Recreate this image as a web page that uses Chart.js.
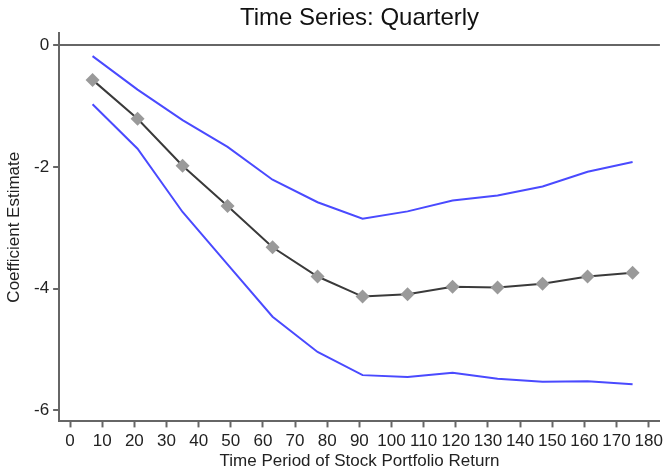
<!DOCTYPE html>
<html>
<head>
<meta charset="utf-8">
<script src="https://cdn.jsdelivr.net/npm/chart.js@4"></script>
<style>
  html, body { margin: 0; padding: 0; background: #fff; }
  #wrap { width: 668px; height: 468px; }
</style>
</head>
<body>
<div id="wrap"><canvas id="coefChart" width="668" height="468"></canvas></div>
<script>
// horizon (months) and estimates
const periods = [7, 21, 35, 49, 63, 77, 91, 105, 119, 133, 147, 161, 175];
const estimate = [-0.57, -1.21, -1.98, -2.64, -3.32, -3.80, -4.13, -4.09, -3.97, -3.98, -3.92, -3.80, -3.74];
const upperBand = [-0.18, -0.73, -1.23, -1.67, -2.21, -2.58, -2.85, -2.73, -2.55, -2.47, -2.32, -2.08, -1.92];
const lowerBand = [-0.97, -1.70, -2.74, -3.60, -4.46, -5.04, -5.42, -5.45, -5.38, -5.48, -5.53, -5.52, -5.57];
const xTicks = [0, 10, 20, 30, 40, 50, 60, 70, 80, 90, 100, 110, 120, 130, 140, 150, 160, 170, 180];
const yTicks = [0, -2, -4, -6];

const toPoints = (vals) => vals.map((v, i) => ({ x: periods[i], y: v }));

const FONT = "'Liberation Sans', Arial, sans-serif";

// title centred over the plot area, like the original
const plotTitle = {
  id: 'plotTitle',
  afterDraw(chart) {
    const { ctx, chartArea } = chart;
    ctx.save();
    ctx.font = '24px ' + FONT;
    ctx.fillStyle = '#111';
    ctx.textAlign = 'center';
    ctx.textBaseline = 'middle';
    ctx.fillText('Time Series: Quarterly', (chartArea.left + chartArea.right) / 2, 18);
    ctx.restore();
  }
};

new Chart(document.getElementById("coefChart"), {
  type: "line",
  data: {
    datasets: [{
      label: "Upper",
      data: toPoints(upperBand),
      borderColor: "#4a4aff",
      borderWidth: 2,
      pointRadius: 0,
      fill: false
    }, {
      label: "Lower",
      data: toPoints(lowerBand),
      borderColor: "#4a4aff",
      borderWidth: 2,
      pointRadius: 0,
      fill: false
    }, {
      label: "Estimate",
      data: toPoints(estimate),
      borderColor: "#3a3a3a",
      borderWidth: 2,
      pointStyle: "rectRot",
      pointRadius: 7,
      pointBackgroundColor: "#9a9a9a",
      pointBorderColor: "#9a9a9a",
      pointBorderWidth: 0,
      fill: false
    }]
  },
  options: {
    responsive: false,
    animation: false,
    layout: { padding: { top: 33, right: 8, left: 6, bottom: 0 } },
    plugins: {
      legend: { display: false },
      tooltip: { enabled: false }
    },
    scales: {
      x: {
        type: "linear",
        min: -3.4,
        max: 183.5,
        afterBuildTicks: (axis) => { axis.ticks = xTicks.map(v => ({ value: v })); },
        ticks: { color: "#222", font: { size: 17, family: FONT, lineHeight: 1 }, padding: 5, maxRotation: 0, autoSkip: false },
        grid: { drawOnChartArea: false, tickLength: 6, color: "#666", tickWidth: 2 },
        border: { color: "#666", width: 2 },
        title: { display: true, text: "Time Period of Stock Portfolio Return", color: "#222", font: { size: 17, family: FONT, lineHeight: 0.8 }, padding: { top: 0, bottom: 0 } }
      },
      y: {
        min: -6.18,
        max: 0.2,
        afterBuildTicks: (axis) => { axis.ticks = yTicks.map(v => ({ value: v })); },
        ticks: { color: "#222", font: { size: 17, family: FONT }, padding: 4 },
        grid: {
          drawOnChartArea: true,
          color: (c) => (c.tick && c.tick.value === 0) ? "#666" : "rgba(0,0,0,0)",
          lineWidth: 2,
          tickColor: "#666",
          tickLength: 6,
          tickWidth: 2
        },
        border: { color: "#666", width: 2 },
        title: { display: true, text: "Coefficient Estimate", color: "#222", font: { size: 17, family: FONT, lineHeight: 1 }, padding: { top: 0, bottom: 7 } }
      }
    }
  },
  plugins: [plotTitle]
});
</script>
</body>
</html>
